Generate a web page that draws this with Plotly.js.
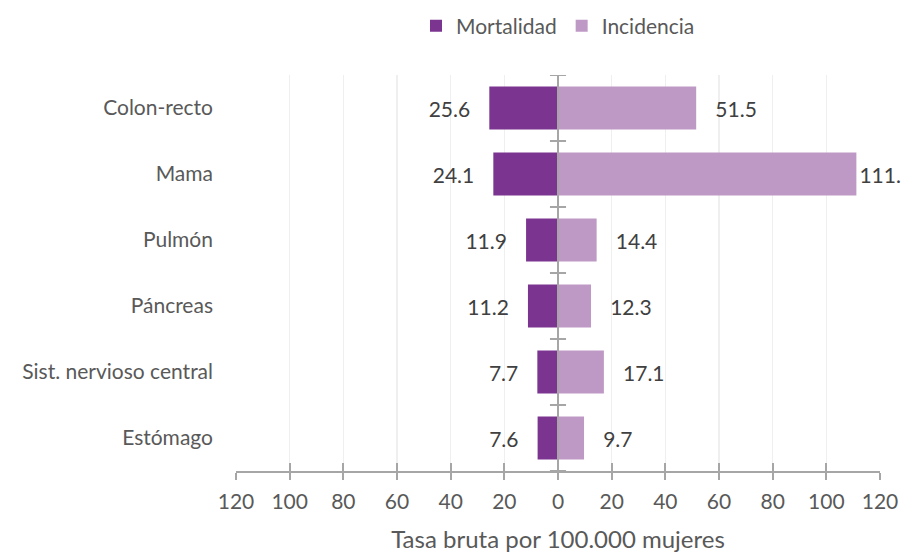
<!DOCTYPE html>
<html><head><meta charset="utf-8">
<script src="https://cdn.plot.ly/plotly-3.0.1.min.js"></script>
<style>html,body{margin:0;padding:0;background:#fff}#chart{width:901px;height:553px}</style>
</head><body><div id="chart"></div>
<script>
const categories = ["Colon-recto","Mama","Pulmón","Páncreas","Sist. nervioso central","Estómago"];
const mortalidad = [25.6,24.1,11.9,11.2,7.7,7.6];
const incidencia = [51.5,111.2,14.4,12.3,17.1,9.7];
const tickVals = [-120,-100,-80,-60,-40,-20,0,20,40,60,80,100,120];
const tickText = ["120","100","80","60","40","20","0","20","40","60","80","100","120"];

const FONT = "Lato, Carlito, Calibri, sans-serif";
const NB = "\u00a0\u00a0\u00a0";
const AX = '#a6a6a6';

const traces = [
  {type:'bar', orientation:'h', name:'Mortalidad', y:categories,
   x:mortalidad.map(v=>-v), text:mortalidad.map(v=>v.toFixed(1)+NB),
   textposition:'outside', cliponaxis:false, width:0.65,
   marker:{color:'#7b3590'}, textfont:{color:'#404040', size:21, family:FONT}, hoverinfo:'skip'},
  {type:'bar', orientation:'h', name:'Incidencia', y:categories,
   x:incidencia, text:incidencia.map(v=>(v>100?'':NB)+v.toFixed(1)),
   textposition:'outside', cliponaxis:false, width:0.65,
   marker:{color:'#bf99c6'}, textfont:{color:'#404040', size:21, family:FONT}, hoverinfo:'skip'}
];

const shapes = [{type:'line', xref:'x', yref:'y', x0:0, x1:0, y0:-0.5, y1:categories.length-0.5,
  line:{color:AX, width:2}, layer:'above'}];
for (let i=0;i<=categories.length;i++){
  shapes.push({type:'line', xref:'x', yref:'y', x0:-3, x1:3, y0:i-0.5, y1:i-0.5,
    line:{color:AX, width:2}, layer:'above'});
}

const layout = {
  width:901, height:553,
  margin:{l:236, r:21, t:75, b:82, autoexpand:false},
  paper_bgcolor:'#fff', plot_bgcolor:'#fff',
  barmode:'relative',
  font:{family:FONT, color:'#595959', size:21},
  showlegend:true,
  legend:{orientation:'h', x:0.5, xanchor:'center', yref:'container', y:0.953, yanchor:'middle',
    font:{size:21, color:'#595959', family:FONT}, traceorder:'normal', itemwidth:30},
  xaxis:{range:[-120,120], tickvals:tickVals, ticktext:tickText,
    showgrid:true, gridcolor:'#efefef', gridwidth:1.5, zeroline:false,
    showline:true, linecolor:AX, linewidth:2,
    ticks:'outside', ticklen:7, tickcolor:AX, tickwidth:2,
    tickfont:{size:21, color:'#595959', family:FONT}, ticklabelstandoff:4,
    title:{text:'Tasa bruta por 100.000 mujeres', font:{size:24, color:'#595959', family:FONT}, standoff:20},
    fixedrange:true},
  xaxis2:{range:[-120,120], overlaying:'x', anchor:'y', side:'bottom', tickvals:tickVals,
    showticklabels:false, showgrid:false, zeroline:false, showline:false,
    ticks:'inside', ticklen:8, tickcolor:AX, tickwidth:2},
  yaxis:{type:'category', categoryorder:'array', categoryarray:categories, range:[5.5,-0.5],
    showgrid:false, zeroline:false, showline:false, ticks:'', ticklabelstandoff:22,
    tickfont:{size:21, color:'#595959', family:FONT}, fixedrange:true},
  shapes:shapes
};
traces.push({type:'scatter', x:[0], y:[categories[0]], xaxis:'x2', mode:'markers',
  marker:{opacity:0}, showlegend:false, hoverinfo:'skip'});

Plotly.newPlot('chart', traces, layout, {displayModeBar:false, staticPlot:true});
</script></body></html>
